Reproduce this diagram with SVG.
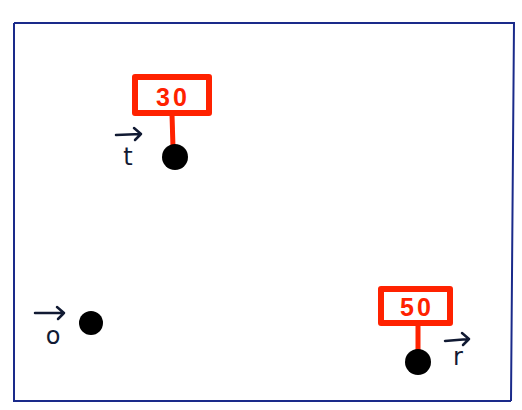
<svg xmlns="http://www.w3.org/2000/svg" width="522" height="410" viewBox="0 0 522 410">
<defs>
<style>
.frame{fill:none;stroke:#1a2a8a;stroke-width:2}
.sign{fill:#fff;stroke:#ff2200;stroke-width:6;stroke-linejoin:round}
.post{stroke:#ff2200;stroke-width:5}
.dot{fill:#000}
.num{font-family:"Liberation Sans",Arial,sans-serif;font-weight:bold;font-size:25px;fill:#ff2200;text-anchor:middle;letter-spacing:3px}
.lbl{font-family:"DejaVu Sans","Liberation Sans",sans-serif;font-size:24px;fill:#111a33;text-anchor:middle}
.arr{stroke:#111a33;stroke-width:2.5;fill:none;stroke-linecap:round;stroke-linejoin:round}
</style>
</defs>
<rect x="0" y="0" width="522" height="410" fill="#fff"/>
<path class="frame" d="M14 23 L515 23 M14 23 L14 401 L511 401 M514 23 L511 401"/>
<g id="node-t">
<line class="post" x1="172" y1="114" x2="173" y2="148"/>
<rect class="sign" x="135" y="77" width="74" height="36"/>
<text class="num" x="173" y="106">30</text>
<circle class="dot" cx="175" cy="157" r="13"/>
<path class="arr" d="M116 135 L141 134 M134 128 L141 134 L135 140"/>
<text class="lbl" x="128" y="165">t</text>
</g>
<g id="node-o">
<circle class="dot" cx="91" cy="323" r="12"/>
<path class="arr" d="M35 313 L64 313 M57 307 L64 313 L58 319"/>
<text class="lbl" x="53" y="344">o</text>
</g>
<g id="node-r">
<line class="post" x1="418" y1="323" x2="418" y2="352"/>
<rect class="sign" x="381" y="289" width="69" height="34"/>
<text class="num" x="417" y="316">50</text>
<circle class="dot" cx="418" cy="362" r="13"/>
<path class="arr" d="M445 341 L469 339 M462 333 L469 339 L463 345"/>
<text class="lbl" x="458" y="365">r</text>
</g>
<g id="connectors"></g>
</svg>
